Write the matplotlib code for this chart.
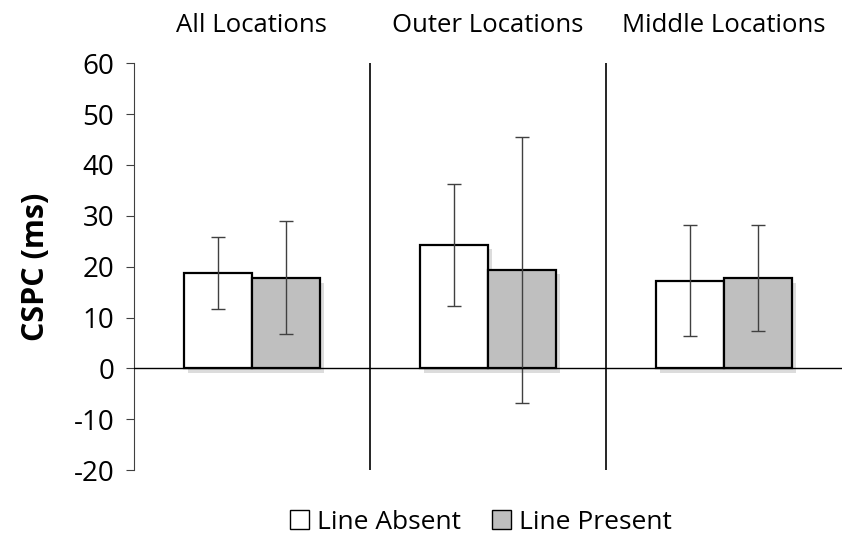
import numpy as np
import matplotlib
matplotlib.use("Agg")
import matplotlib.pyplot as plt
import matplotlib.patheffects as pe
from matplotlib.patches import Patch

plt.rcParams['font.family'] = ['Open Sans', 'DejaVu Sans']
plt.rcParams['axes.unicode_minus'] = False

groups = ['All Locations', 'Outer Locations', 'Middle Locations']
absent = [18.7, 24.2, 17.2]
present = [17.7, 19.4, 17.7]
absent_lo = [11.6, 12.2, 6.4]
absent_hi = [25.9, 36.3, 28.1]
present_lo = [6.8, -6.8, 7.3]
present_hi = [28.9, 45.4, 28.1]

fig = plt.figure(figsize=(8.42, 5.36), dpi=100)
ax = fig.add_axes([0.159, 0.123, 0.841, 0.759])

x = np.arange(len(groups)) + 0.5
w = 0.288
# soft drop shadow like the original
shadow = [pe.SimplePatchShadow(offset=(3, -3), shadow_rgbFace='#bbbbbb', alpha=0.5), pe.Normal()]

b1 = ax.bar(x - w / 2, absent, w, color='white', edgecolor='black', linewidth=1.6, zorder=3)
b2 = ax.bar(x + w / 2, present, w, color='#bfbfbf', edgecolor='black', linewidth=1.6, zorder=3)
for b in list(b1) + list(b2):
    b.set_path_effects(shadow)

err_a = [np.array(absent) - np.array(absent_lo), np.array(absent_hi) - np.array(absent)]
err_p = [np.array(present) - np.array(present_lo), np.array(present_hi) - np.array(present)]
ax.errorbar(x - w / 2, absent, yerr=err_a, fmt='none', ecolor='#404040', elinewidth=1, capsize=5, capthick=1, zorder=4)
ax.errorbar(x + w / 2, present, yerr=err_p, fmt='none', ecolor='#404040', elinewidth=1, capsize=5, capthick=1, zorder=4)

ax.axhline(0, color='black', linewidth=1, zorder=5)
for sep in [1, 2]:
    ax.axvline(sep, color='black', linewidth=1.2, zorder=2)

ax.set_xlim(0, 3)
ax.set_ylim(-20, 60)
ax.set_yticks(np.arange(-20, 61, 10))
ax.set_xticks([])
for s in ['top', 'right', 'bottom']:
    ax.spines[s].set_visible(False)
ax.spines['left'].set_color('#404040')
ax.tick_params(axis='y', labelsize=20, length=6, color='#404040', pad=8)
ax.set_ylabel('CSPC (ms)', fontsize=22, fontweight='bold')
ax.yaxis.set_label_coords(-0.117, 0.5)

for xi, g in zip(x, groups):
    ax.text(xi, 1.093, g, transform=ax.get_xaxis_transform(), ha='center', va='center', fontsize=18.5)

handles = [Patch(facecolor='white', edgecolor='black', label='Line Absent'),
           Patch(facecolor='#bfbfbf', edgecolor='black', label='Line Present')]
fig.legend(handles=handles, loc='center', bbox_to_anchor=(0.571, 0.026), ncol=2, frameon=False,
           fontsize=19, handlelength=0.7, handleheight=0.7, handletextpad=0.3, columnspacing=1.2)

fig.savefig('out.png', dpi=100)
